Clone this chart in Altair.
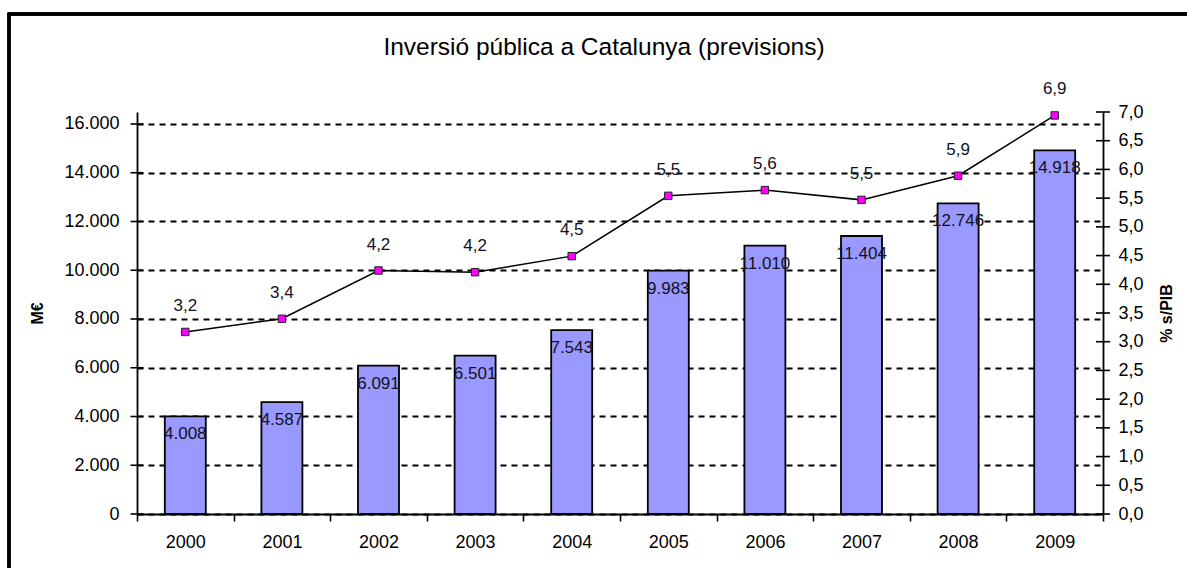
import altair as alt
import pandas as pd

years = ["2000", "2001", "2002", "2003", "2004", "2005", "2006", "2007", "2008", "2009"]
inversio = [4008, 4587, 6091, 6501, 7543, 9983, 11010, 11404, 12746, 14918]
pct_pib = [3.17, 3.40, 4.24, 4.21, 4.49, 5.54, 5.64, 5.47, 5.89, 6.94]

left_ticks = [0, 2000, 4000, 6000, 8000, 10000, 12000, 14000, 16000]
right_ticks = [0.0, 0.5, 1.0, 1.5, 2.0, 2.5, 3.0, 3.5, 4.0, 4.5, 5.0, 5.5, 6.0, 6.5, 7.0]

df = pd.DataFrame({
    "year": years,
    "inv": inversio,
    "pct": pct_pib,
})
df["inv_label"] = [f"{v:,}".replace(",", ".") for v in inversio]
df["pct_label"] = [f"{v:.1f}".replace(".", ",") for v in pct_pib]

FONT = "Liberation Sans"
W, H = 966, 402

x_enc = alt.X(
    "year:N",
    sort=years,
    scale=alt.Scale(paddingInner=0, paddingOuter=0),
    axis=alt.Axis(title=None, labelAngle=0, tickBand="extent", tickSize=7,
                  labelPadding=12, grid=False),
)

left_scale = alt.Scale(domain=[0, 16492], nice=False, zero=True)
right_scale = alt.Scale(domain=[0, 7.0], nice=False, zero=True)

y_left = alt.Y("inv:Q", scale=left_scale,
               axis=alt.Axis(title="M€", values=left_ticks,
                             labelExpr="replace(format(datum.value, ','), ',', '.')",
                             grid=True, gridDash=[6, 5], gridColor="black", gridWidth=1.8,
                             ticks=False, labelPadding=18, titlePadding=18,
                             titleFontWeight="bold", titleFontSize=16, titleAngle=270))
y_right = alt.Y("pct:Q", scale=right_scale,
                axis=alt.Axis(title="% s/PIB", orient="right", values=right_ticks,
                              labelExpr="replace(format(datum.value, '.1f'), '.', ',')",
                              grid=False, ticks=False, labelPadding=15, titlePadding=31,
                              titleFontWeight="bold", titleFontSize=16, titleAngle=270))

bars = alt.Chart(df).mark_bar(size=41, fill="#9999FF", stroke="black", strokeWidth=1.8).encode(
    x=x_enc, y=y_left,
)
bar_text = alt.Chart(df).mark_text(dy=18, baseline="middle", align="center",
                                   fontSize=17, font=FONT, color="#111122").encode(
    x=x_enc, y=y_left, text="inv_label:N",
)
left = alt.layer(bars, bar_text)

line = alt.Chart(df).mark_line(
    color="black", strokeWidth=1.5,
    point=alt.OverlayMarkDef(shape="square", filled=True, fill="#FF00FF",
                             stroke="#222222", strokeWidth=1, size=55, opacity=1),
).encode(x=x_enc, y=y_right)
line_text = alt.Chart(df).mark_text(dy=-26, baseline="middle", align="center",
                                    fontSize=17, font=FONT, color="#111122").encode(
    x=x_enc, y=y_right, text="pct_label:N",
)
right = alt.layer(line, line_text)

# crossing tick marks on both value axes (Excel style)
left_tick_marks = alt.Chart(pd.DataFrame({"v": left_ticks})).mark_tick(
    orient="horizontal", size=13, thickness=1.6, color="black", opacity=1
).encode(y=alt.Y("v:Q", scale=left_scale, axis=None), x=alt.value(0))
right_tick_marks = alt.Chart(pd.DataFrame({"v": right_ticks})).mark_tick(
    orient="horizontal", size=14, thickness=1.6, color="black", opacity=1
).encode(y=alt.Y("v:Q", scale=right_scale, axis=None), x=alt.value(W))

frame = alt.Chart(df).mark_rect(fill=None, stroke="black", strokeWidth=2.5).encode(
    x=alt.value(-128), x2=alt.value(1187 - 137 + 20),
    y=alt.value(-98), y2=alt.value(568 - 112 + 20),
)

chart = alt.layer(left, right, left_tick_marks, right_tick_marks, frame).resolve_scale(
    y="independent"
).properties(
    width=W, height=H,
    title=alt.Title("Inversió pública a Catalunya (previsions)", fontSize=24.5, font=FONT,
                    fontWeight="normal", color="black", anchor="middle", dx=-16,
                    baseline="alphabetic", offset=-67),
    autosize=alt.AutoSizeParams(type="none"),
    padding={"left": 137, "top": 112, "right": 84, "bottom": 54},
    background="white",
).configure_view(stroke=None).configure_axis(
    domainColor="black", domainWidth=1.8, tickColor="black", tickWidth=1.6,
    labelFont=FONT, labelFontSize=18, labelColor="black",
    titleFont=FONT, titleColor="black",
)

chart.save("out.html", embed_options={"renderer": "svg", "actions": False})
